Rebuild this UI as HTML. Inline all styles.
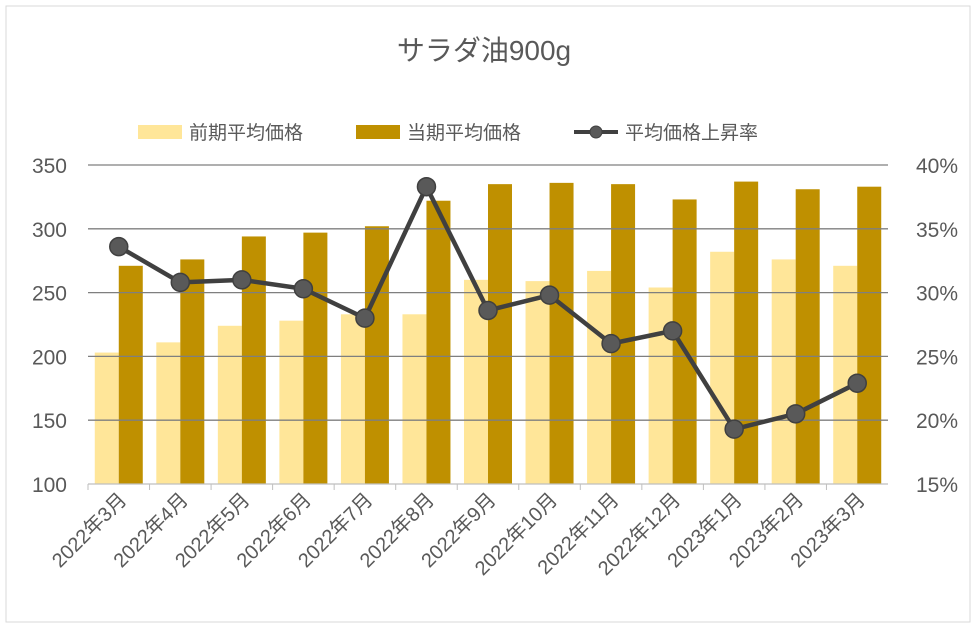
<!DOCTYPE html>
<html><head><meta charset="utf-8"><style>
body{margin:0;background:#fff}
svg{display:block;font-family:"Liberation Sans","Noto Sans CJK JP",sans-serif}
</style></head><body>
<svg id="c" width="978" height="629">
<rect x="6" y="6" width="964" height="616" fill="#fff" stroke="#d9d9d9"/>
<text x="484" y="60" font-size="28" fill="#595959" text-anchor="middle">サラダ油900g</text>
<g>
<g><rect x="138" y="125" width="44" height="14" fill="#ffe699"/><text x="189" y="139" font-size="19" fill="#595959">前期平均価格</text></g>
<g><rect x="356" y="125" width="44" height="14" fill="#bf9000"/><text x="407" y="139" font-size="19" fill="#595959">当期平均価格</text></g>
<g><line x1="574" y1="132" x2="618" y2="132" stroke="#404040" stroke-width="4"/><circle cx="596" cy="132" r="6" fill="#595959" stroke="#404040"/><text x="625" y="139" font-size="19" fill="#595959">平均価格上昇率</text></g>
</g>
<g id="plot"></g>
</svg>
<script>
const categories=["2022年3月","2022年4月","2022年5月","2022年6月","2022年7月","2022年8月","2022年9月","2022年10月","2022年11月","2022年12月","2023年1月","2023年2月","2023年3月"];
const prevPrice=[203,211,224,228,233,233,260,259,267,254,282,276,271];
const currPrice=[271,276,294,297,302,322,335,336,335,323,337,331,333];
const rate=[33.6,30.8,31.0,30.3,28.0,38.3,28.6,29.8,26.0,27.0,19.3,20.5,22.9];
const leftTicks=[100,150,200,250,300,350];
const rightTicks=[15,20,25,30,35,40];
const NS="http://www.w3.org/2000/svg";
const X0=88,X1=888,Y0=484,Y1=165;
const step=(X1-X0)/categories.length;
const yL=v=>Y0-(v-100)/(350-100)*(Y0-Y1);
const yR=v=>Y0-(v-15)/(40-15)*(Y0-Y1);
const xC=i=>X0+step*(i+0.5);
const g=document.getElementById('plot');
function mk(t,a){const e=document.createElementNS(NS,t);for(const k in a)e.setAttribute(k,a[k]);g.appendChild(e);return e;}
const bw=24;
prevPrice.forEach((v,i)=>{const r=mk('rect',{x:xC(i)-bw,y:yL(v),width:bw,height:Y0-yL(v),fill:'#ffe699'});

});
currPrice.forEach((v,i)=>{const r=mk('rect',{x:xC(i),y:yL(v),width:bw,height:Y0-yL(v),fill:'#bf9000'});

});
leftTicks.forEach((v,i)=>{
 if(i>0){const l=mk('line',{x1:X0,x2:X1,y1:yL(v),y2:yL(v),stroke:'#7f7f7f','stroke-width':1.3});
 
 }
 const t=mk('text',{x:67,y:yL(v)+8,'font-size':21,fill:'#595959','text-anchor':'end'});t.textContent=v;
 
 
});
rightTicks.forEach(v=>{const t=mk('text',{x:958,y:yR(v)+8,'font-size':21,fill:'#595959','text-anchor':'end'});t.textContent=v+'%';
 
 });
const ax=mk('line',{x1:X0,x2:X1,y1:Y0,y2:Y0,stroke:'#bfbfbf','stroke-width':1.3});


categories.forEach((c,i)=>{
 const tk=mk('line',{x1:X0+step*i,x2:X0+step*i,y1:Y0,y2:Y0+6,stroke:'#bfbfbf'});
 
 
 const x=xC(i)+9,y=Y0+17;
 const t=mk('text',{x:x,y:y,'font-size':20,fill:'#595959','text-anchor':'end',transform:`rotate(-45 ${x} ${y})`});t.textContent=c;
 
 
});
const pl=mk('polyline',{points:rate.map((v,i)=>xC(i)+','+yR(v)).join(' '),fill:'none',stroke:'#404040','stroke-width':4.5,'stroke-linejoin':'round'});


rate.forEach((v,i)=>{const c=mk('circle',{cx:xC(i),cy:yR(v),r:9,fill:'#595959',stroke:'#404040','stroke-width':1.5});
 
 });
</script>
</body></html>
